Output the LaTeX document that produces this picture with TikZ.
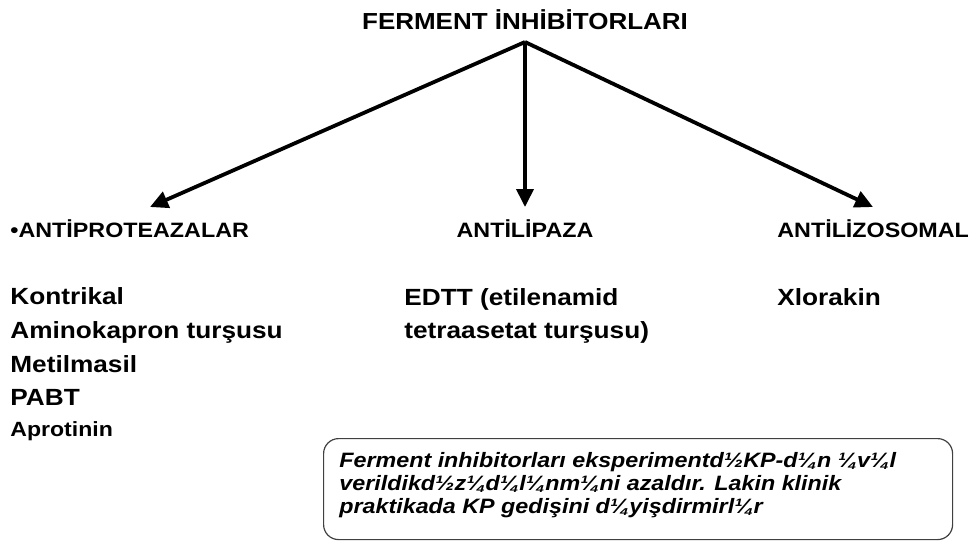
\documentclass[tikz,border=0pt]{standalone}
\usepackage{fontspec}
\setmainfont{Liberation Sans}[FakeStretch=1.12]
\usetikzlibrary{arrows.meta}

\begin{document}
\begin{tikzpicture}[x=0.5pt,y=-0.5pt,
    every node/.style={inner sep=0pt},
    head/.style={font=\fontsize{11.6}{13}\selectfont\bfseries},
    group/.style={font=\fontsize{10.4}{12}\selectfont\bfseries},
    drug/.style={font=\fontsize{11.7}{13}\selectfont\bfseries},
    minor/.style={font=\fontsize{10.3}{12}\selectfont\bfseries},
    branch/.style={line width=1.9pt, -{Triangle[length=9pt,width=8.5pt]}},
    notebox/.style={draw=black!75, line width=0.6pt, rounded corners=7.5pt,
        minimum width=314.5pt, minimum height=50.5pt},
    notetext/.style={font=\fontsize{10.4}{12}\selectfont\bfseries\itshape, align=left}]
    \useasboundingbox (0,0) rectangle (971,541);
    \node[head, anchor=base] (title) at (525,29) {FERMENT İNHİBİTORLARI};
    \coordinate (apex) at (525,42);
    \coordinate (tipprot) at (150,207);
    \coordinate (tiplip) at (525,207);
    \coordinate (tiplis) at (873,207);
    \draw[branch] (apex) -- (tipprot);
    \draw[branch] (apex) -- (tiplip);
    \draw[branch] (apex) -- (tiplis);
    \node[group, anchor=base west] (prot) at (10,237) {•ANTİPROTEAZALAR};
    \node[group, anchor=base] (lip) at (525,237) {ANTİLİPAZA};
    \node[group, anchor=base west] (lis) at (777,237) {ANTİLİZOSOMAL};
    \node[drug, anchor=base west] (kontrikal) at (10,304) {Kontrikal};
    \node[drug, anchor=base west] (aminokapron) at (10,338) {Aminokapron turşusu};
    \node[drug, anchor=base west] (metilmasil) at (10,372) {Metilmasil};
    \node[drug, anchor=base west] (pabt) at (10,405) {PABT};
    \node[minor, anchor=base west] (aprotinin) at (10,436) {Aprotinin};
    \node[drug, anchor=base west] (edtt) at (404,305) {EDTT (etilenamid};
    \node[drug, anchor=base west] (edttb) at (404,338) {tetraasetat turşusu)};
    \node[drug, anchor=base west] (xlorakin) at (777,305) {Xlorakin};
    \node[notebox, anchor=north west] (note) at (323,438) {};
    \node[notetext, anchor=base west] (notea) at (339,467) {Ferment inhibitorları eksperimentd½KP-d¼n ¼v¼l};
    \node[notetext, anchor=base west] (noteb) at (339,490) {verildikd½z¼d¼l¼nm¼ni azaldır. Lakin klinik};
    \node[notetext, anchor=base west] (notec) at (339,513) {praktikada KP gedişini d¼yişdirmirl¼r};
\end{tikzpicture}
\end{document}
